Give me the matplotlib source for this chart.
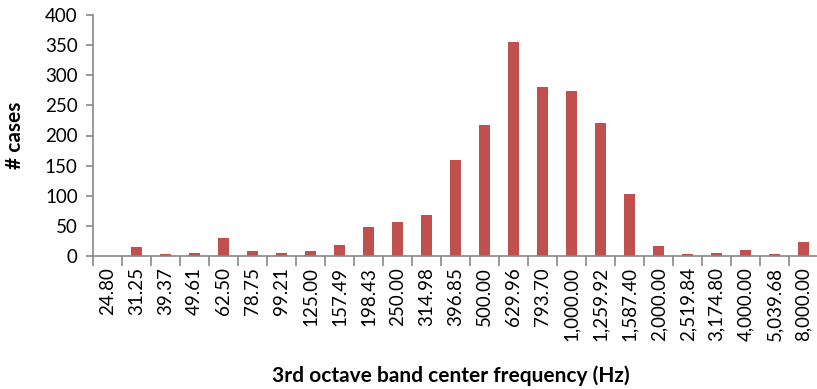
import matplotlib
matplotlib.use("Agg")
import matplotlib.pyplot as plt
import numpy as np

categories = ["24.80", "31.25", "39.37", "49.61", "62.50", "78.75", "99.21", "125.00",
              "157.49", "198.43", "250.00", "314.98", "396.85", "500.00", "629.96",
              "793.70", "1,000.00", "1,259.92", "1,587.40", "2,000.00", "2,519.84",
              "3,174.80", "4,000.00", "5,039.68", "8,000.00"]
cases = [0, 15, 3, 5, 30, 8, 5, 8, 18, 48, 56, 68, 159, 217, 355, 280, 274, 221, 103,
         17, 3, 5, 10, 3, 23]
yticks = [0, 50, 100, 150, 200, 250, 300, 350, 400]

plt.rcParams['font.family'] = ['Lato', 'DejaVu Sans']

fig = plt.figure(figsize=(8.17, 3.89), dpi=100)
ax = fig.add_axes([93/817, 1-256/389, 725/817, 241/389])

x = np.arange(len(categories))
ax.bar(x, cases, width=0.41, color="#C0504D", zorder=2)

ax.set_xlim(-0.5, len(categories)-0.5)
ax.set_ylim(0, 400)
ax.set_yticks(yticks)
ax.set_yticklabels([str(v) for v in yticks], fontsize=13.5)
ax.set_xticks(x)
ax.set_xticklabels(categories, rotation=90, fontsize=13.5)
ax.tick_params(axis='x', which='major', length=0, pad=8)
ax.set_xticks(np.arange(-0.5, len(categories)), minor=True)
ax.tick_params(axis='x', which='minor', length=7, width=1.2, color="#888888", direction='out')
ax.tick_params(axis='y', length=5, width=1.2, color="#888888", direction='out', pad=6)

for s in ['top', 'right']:
    ax.spines[s].set_visible(False)
for s in ['left', 'bottom']:
    ax.spines[s].set_color("#888888")
    ax.spines[s].set_linewidth(1.2)

fig.text(451/817, 1-376/389, "3rd octave band center frequency (Hz)", fontsize=15,
         fontweight='bold', ha='center', va='center')
fig.text(15/817, 1-135/389, "# cases", fontsize=15, fontweight='bold',
         rotation=90, ha='center', va='center')

fig.savefig("out.png", dpi=100)
